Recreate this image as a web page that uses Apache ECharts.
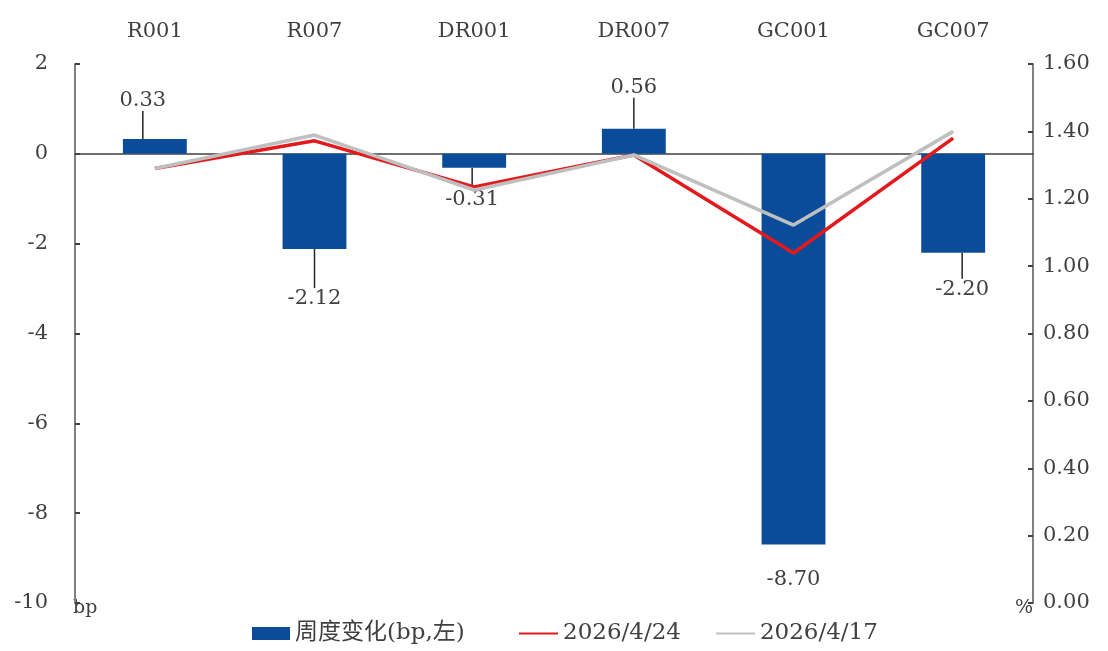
<!DOCTYPE html>
<html><head><meta charset="utf-8">
<script src="https://cdn.jsdelivr.net/npm/echarts@6/dist/echarts.min.js"></script>
<style>html,body{margin:0;padding:0;background:#fff}#c{width:1108px;height:651px}</style>
</head><body><div id="c"></div>
<script>
const categories = ['R001','R007','DR001','DR007','GC001','GC007'];
const weeklyChange = [0.33,-2.12,-0.31,0.56,-8.70,-2.20];
const rate0424 = [1.29,1.372,1.235,1.33,1.039,1.38];
const rate0417 = [1.29,1.389,1.226,1.33,1.122,1.40];
const leftTicks = [-10,-8,-6,-4,-2,0,2];
const rightTicks = ['0.00','0.20','0.40','0.60','0.80','1.00','1.20','1.40','1.60'];
const seriesNames = ['周度变化(bp,左)','2026/4/24','2026/4/17'];
const labelShift = [[-12,-23],[0,34],[-2,16],[0,-26],[0,19],[9,21]];

const FONT = '"DejaVu Serif","Liberation Serif","Noto Sans CJK SC",serif';
const legendText = {fontFamily:FONT,fontSize:23,color:'#404040'};
const chart = echarts.init(document.getElementById('c'));
chart.setOption({
  backgroundColor:'#fff',
  animation:false,
  textStyle:{fontFamily:FONT},
  grid:{left:75,right:75,top:64,bottom:48,containLabel:false},
  legend:[
    {bottom:1,left:247,itemWidth:38,itemHeight:13,textStyle:legendText,
     data:[{name:seriesNames[0],icon:'rect'}]},
    {bottom:1,left:513,itemGap:34,itemWidth:39,itemHeight:13,textStyle:legendText,
     data:[{name:seriesNames[1],itemStyle:{opacity:0}},{name:seriesNames[2],itemStyle:{opacity:0}}]}
  ],
  xAxis:[
    {type:'category',data:categories,position:'bottom',
     axisLine:{onZero:true,onZeroAxisIndex:0,lineStyle:{color:'#404040',width:1.5}},
     axisTick:{show:false},axisLabel:{show:false}},
    {type:'category',data:categories,position:'top',
     axisLine:{show:false},axisTick:{show:false},
     axisLabel:{margin:22,fontSize:21,color:'#404040',fontFamily:FONT}}
  ],
  yAxis:[
    {type:'value',min:-10,max:2,interval:2,position:'left',
     name:'bp',nameLocation:'start',nameGap:-4,
     nameTextStyle:{fontSize:19,color:'#404040',align:'left',verticalAlign:'top',padding:[0,0,0,-2],fontFamily:FONT},
     axisLine:{show:true,lineStyle:{color:'#808080',width:2}},
     axisTick:{show:true,inside:true,length:5,lineStyle:{color:'#404040',width:2}},
     splitLine:{show:false},
     axisLabel:{margin:27,fontSize:21,color:'#404040',fontFamily:FONT,
       formatter:v=>leftTicks.indexOf(v)>=0?String(v):''}},
    {type:'value',min:0,max:1.6,interval:0.2,position:'right',
     name:'%',nameLocation:'start',nameGap:-4,
     nameTextStyle:{fontSize:19,color:'#404040',align:'right',verticalAlign:'top',padding:[0,0,0,0],fontFamily:FONT},
     axisLine:{show:true,lineStyle:{color:'#808080',width:2}},
     axisTick:{show:true,inside:true,length:5,lineStyle:{color:'#404040',width:2}},
     splitLine:{show:false},
     axisLabel:{margin:10,fontSize:21,color:'#404040',fontFamily:FONT,
       formatter:v=>rightTicks[Math.round(v/0.2)]}}
  ],
  series:[
    {name:seriesNames[0],type:'bar',xAxisIndex:0,yAxisIndex:0,barWidth:'40%',
     itemStyle:{color:'#0b4c9a'},
     data:weeklyChange.map((v,i)=>({value:v,labelLine:{show:i!==4},label:{position:v<0?'bottom':'top'}})),
     label:{show:true,fontSize:21,color:'#404040',fontFamily:FONT,distance:5,
       formatter:p=>p.value.toFixed(2)},
     labelLayout:function(p){const s=labelShift[p.dataIndex];return {dx:s[0],dy:s[1]};},
     labelLine:{show:true,lineStyle:{color:'#262626',width:1.5},length2:0},
     z:2},
    {name:seriesNames[1],type:'line',yAxisIndex:1,data:rate0424,symbol:'none',
     lineStyle:{color:'#e3191c',width:3.5},itemStyle:{color:'#e3191c'},z:4},
    {name:seriesNames[2],type:'line',yAxisIndex:1,data:rate0417,symbol:'none',
     lineStyle:{color:'#bfbfbf',width:3.5},itemStyle:{color:'#bfbfbf'},z:5}
  ]
});
</script></body></html>
